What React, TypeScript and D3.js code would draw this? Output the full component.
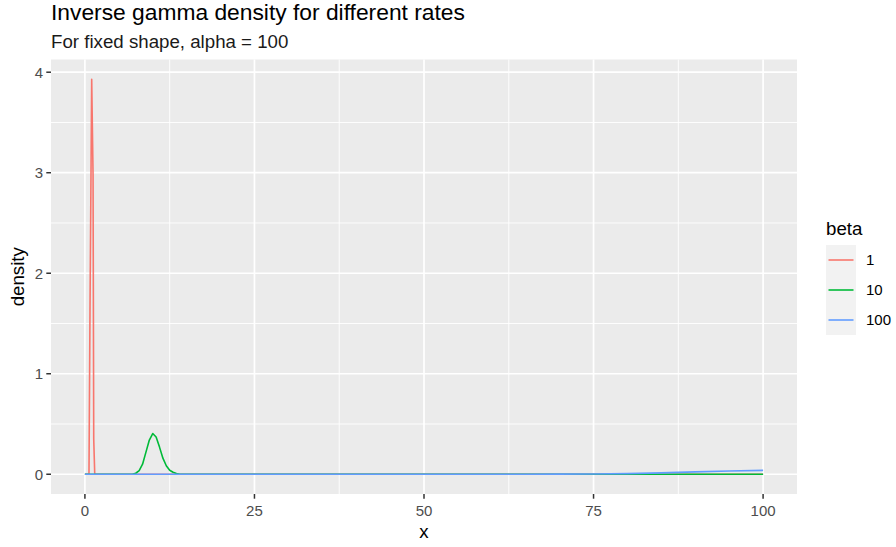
import * as d3 from 'd3';

// values
const betaLevels = ['1', '10', '100'];
const betaColors = ['#F8766D', '#00BA38', '#619CFF'];

const xBeta1 = [0, 0.6, 0.75, 1.0, 1.2, 1.3, 1.45, 100];
const yBeta1 = [0, 0, 1.63, 3.93, 2.99, 0.35, 0, 0];

const xBeta10 = [0, 7, 7.5, 8, 8.5, 9, 9.5, 10, 10.5, 11, 11.5, 12, 12.5, 13, 13.5, 14, 100];
const yBeta10 = [0, 0, 0.01, 0.035, 0.1, 0.22, 0.34, 0.405, 0.37, 0.27, 0.16, 0.085, 0.04, 0.02, 0.008, 0, 0];

const xBeta100 = [0, 50, 60, 65, 70, 75, 80, 85, 90, 95, 100];
const yBeta100 = [0, 0, 0.00005, 0.0002, 0.0008, 0.0025, 0.0065, 0.014, 0.024, 0.033, 0.039];

const xTicks = [0, 25, 50, 75, 100];
const xMinor = [12.5, 37.5, 62.5, 87.5];
const yTicks = [0, 1, 2, 3, 4];
const yMinor = [0.5, 1.5, 2.5, 3.5];

const width = 896;
const height = 547;
const margin = { top: 59.5, right: 99, bottom: 53, left: 51 };
const font = '"Liberation Sans", Arial, sans-serif';

function App() {
  const series = [
    { x: xBeta1, y: yBeta1 },
    { x: xBeta10, y: yBeta10 },
    { x: xBeta100, y: yBeta100 },
  ].map((s, i) => ({
    key: betaLevels[i],
    color: betaColors[i],
    points: s.x.map((x, j) => [x, s.y[j]] as [number, number]),
  }));

  const yMax = d3.max(series, (s) => d3.max(s.points, (p) => p[1])) as number;

  const xScale = d3
    .scaleLinear()
    .domain([-5, 105])
    .range([margin.left, width - margin.right]);

  const yScale = d3
    .scaleLinear()
    .domain([-0.05 * yMax, 1.05 * yMax])
    .range([height - margin.bottom, margin.top]);

  const line = d3
    .line<[number, number]>()
    .x((d) => xScale(d[0]))
    .y((d) => yScale(d[1]));

  const px0 = margin.left;
  const px1 = width - margin.right;
  const py0 = margin.top;
  const py1 = height - margin.bottom;

  const legendX = 826;
  const legendTop = 245;
  const keySize = 30;

  return (
    <svg
      width={width}
      height={height}
      style={{ position: 'absolute', left: 0, top: 0, background: '#fff' }}
      fontFamily={font}
    >
      <text x={px0} y={19.5} fontSize={22.8} fill="#000">
        Inverse gamma density for different rates
      </text>
      <text x={px0} y={47.5} fontSize={18.7} fill="#1a1a1a">
        For fixed shape, alpha = 100
      </text>

      <rect x={px0} y={py0} width={px1 - px0} height={py1 - py0} fill="#EBEBEB" />
      {xMinor.map((v) => (
        <line key={'xm' + v} x1={xScale(v)} x2={xScale(v)} y1={py0} y2={py1} stroke="#fff" strokeWidth={0.9} />
      ))}
      {yMinor.map((v) => (
        <line key={'ym' + v} x1={px0} x2={px1} y1={yScale(v)} y2={yScale(v)} stroke="#fff" strokeWidth={0.9} />
      ))}
      {xTicks.map((v) => (
        <line key={'xg' + v} x1={xScale(v)} x2={xScale(v)} y1={py0} y2={py1} stroke="#fff" strokeWidth={1.7} />
      ))}
      {yTicks.map((v) => (
        <line key={'yg' + v} x1={px0} x2={px1} y1={yScale(v)} y2={yScale(v)} stroke="#fff" strokeWidth={1.7} />
      ))}

      {series.map((s) => (
        <path
          key={s.key}
          d={line(s.points) ?? ''}
          fill="none"
          stroke={s.color}
          strokeWidth={1.6}
          strokeLinejoin="round"
        />
      ))}

      {/* axes */}
      {xTicks.map((v) => (
        <g key={'xt' + v}>
          <line x1={xScale(v)} x2={xScale(v)} y1={py1} y2={py1 + 4.7} stroke="#333" strokeWidth={1.5} />
          <text x={xScale(v)} y={py1 + 22} fontSize={15} fill="#4D4D4D" textAnchor="middle">
            {v}
          </text>
        </g>
      ))}
      {yTicks.map((v) => (
        <g key={'yt' + v}>
          <line x1={px0 - 4.7} x2={px0} y1={yScale(v)} y2={yScale(v)} stroke="#333" strokeWidth={1.5} />
          <text x={px0 - 8} y={yScale(v) + 5.4} fontSize={15} fill="#4D4D4D" textAnchor="end">
            {v}
          </text>
        </g>
      ))}
      <text x={(px0 + px1) / 2} y={538} fontSize={18.7} textAnchor="middle" fill="#000">
        x
      </text>
      <text
        transform={`translate(24,${(py0 + py1) / 2}) rotate(-90)`}
        fontSize={18.7}
        textAnchor="middle"
        fill="#000"
      >
        density
      </text>

      {/* legend */}
      <text x={legendX} y={235} fontSize={18.7} fill="#000">
        beta
      </text>
      {series.map((s, i) => (
        <g key={'lg' + s.key}>
          <rect x={legendX} y={legendTop + i * keySize} width={keySize} height={keySize} fill="#F2F2F2" />
          <line
            x1={legendX + 2.5}
            x2={legendX + keySize - 2.5}
            y1={legendTop + i * keySize + keySize / 2}
            y2={legendTop + i * keySize + keySize / 2}
            stroke={s.color}
            strokeWidth={1.6}
          />
          <text x={legendX + keySize + 10} y={legendTop + i * keySize + keySize / 2 + 5.4} fontSize={15} fill="#000">
            {s.key}
          </text>
        </g>
      ))}
    </svg>
  );
}

export default App;
